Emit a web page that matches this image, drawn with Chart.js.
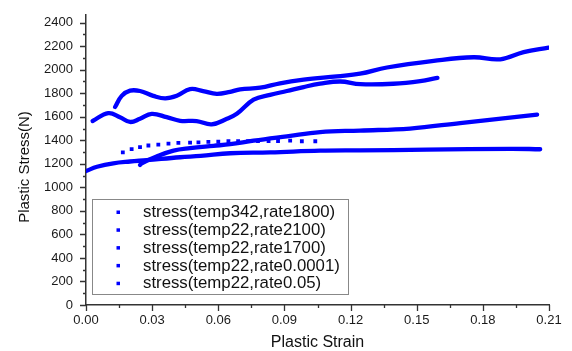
<!DOCTYPE html>
<html>
<head>
<meta charset="utf-8">
<script src="https://cdn.jsdelivr.net/npm/chart.js"></script>
<style>
  html, body { margin: 0; padding: 0; background: #fff; }
  #wrap { width: 572px; height: 351px; }
</style>
</head>
<body>
<div id="wrap"><canvas id="stressChart"></canvas></div>
<script>
// values
const strain342_1800 = [0, 0.005, 0.0124, 0.0200, 0.0275, 0.0427, 0.0520, 0.0654, 0.0835, 0.1062, 0.1243, 0.1546, 0.1924, 0.2060];
const stress342_1800 = [1139, 1175, 1205, 1220, 1231, 1256, 1267, 1290, 1297, 1312, 1315, 1320, 1328, 1324];

const strain22_2100 = [0.0132, 0.0162, 0.0200, 0.0245, 0.0305, 0.0359, 0.0412, 0.0472, 0.0531, 0.0593, 0.0654, 0.0699, 0.0790, 0.0880, 0.0987, 0.1138, 0.1243, 0.1365, 0.1577, 0.1758, 0.1879, 0.1985, 0.2098];
const stress22_2100 = [1683, 1778, 1822, 1819, 1778, 1756, 1778, 1835, 1819, 1795, 1812, 1833, 1847, 1885, 1915, 1944, 1966, 2019, 2075, 2106, 2089, 2150, 2188];

const strain22_1700 = [0.0030, 0.0101, 0.0154, 0.0200, 0.0245, 0.0298, 0.0366, 0.0427, 0.0502, 0.0570, 0.0639, 0.0684, 0.0760, 0.0835, 0.0911, 0.0987, 0.1062, 0.1153, 0.1244, 0.1394, 0.1516, 0.1594];
const stress22_1700 = [1564, 1631, 1597, 1556, 1583, 1625, 1597, 1566, 1564, 1536, 1583, 1625, 1745, 1786, 1819, 1853, 1881, 1900, 1878, 1881, 1903, 1931];

const strain22_00001 = [0.0245, 0.0253, 0.0320, 0.0397, 0.0472, 0.0578, 0.0654, 0.0760, 0.0911, 0.1062, 0.1243, 0.1470, 0.1697, 0.2046];
const stress22_00001 = [1190, 1205, 1262, 1312, 1333, 1353, 1367, 1397, 1434, 1470, 1483, 1500, 1547, 1619];

const strain22_005 = [0.0167, 0.0207, 0.0245, 0.0283, 0.0328, 0.0374, 0.0419, 0.0472, 0.0510, 0.0555, 0.0600, 0.0646, 0.0690, 0.0735, 0.0780, 0.0828, 0.0871, 0.0926, 0.0979, 0.1040];
const stress22_005 = [1297, 1325, 1342, 1356, 1364, 1372, 1378, 1381, 1383, 1386, 1389, 1392, 1392, 1393, 1394, 1393, 1394, 1398, 1392, 1392];

const seriesLabels = [
    'stress(temp342,rate1800)',
    'stress(temp22,rate2100)',
    'stress(temp22,rate1700)',
    'stress(temp22,rate0.0001)',
    'stress(temp22,rate0.05)'
];

const xTicks = [0, 0.03, 0.06, 0.09, 0.12, 0.15, 0.18, 0.21];
const yTicks = [0, 200, 400, 600, 800, 1000, 1200, 1400, 1600, 1800, 2000, 2200, 2400];

const BLUE = '#0000ff';
const FONT = "'Liberation Sans', Arial, sans-serif";

function toPoints(xs, ys) {
    return xs.map((x, i) => ({ x: x, y: ys[i] }));
}

function curve(label, xs, ys) {
    return {
        label: label,
        data: toPoints(xs, ys),
        showLine: true,
        borderColor: BLUE,
        backgroundColor: BLUE,
        borderWidth: 4.3,
        borderCapStyle: 'round',
        borderJoinStyle: 'round',
        tension: 0.4,
        pointRadius: 0
    };
}

const datasets = [
    curve(seriesLabels[0], strain342_1800, stress342_1800),
    curve(seriesLabels[1], strain22_2100, stress22_2100),
    curve(seriesLabels[2], strain22_1700, stress22_1700),
    curve(seriesLabels[3], strain22_00001, stress22_00001),
    {
        label: seriesLabels[4],
        data: toPoints(strain22_005, stress22_005),
        showLine: false,
        pointStyle: 'rect',
        pointRadius: 2.7,
        pointBorderWidth: 0,
        backgroundColor: BLUE,
        borderColor: BLUE
    }
];

// axis ticks (major + minor, outward), titles and the boxed legend
const decorPlugin = {
    id: 'decor',
    afterDraw(chart) {
        const ctx = chart.ctx;
        const x = chart.scales.x, y = chart.scales.y;
        const area = chart.chartArea;
        ctx.save();
        ctx.strokeStyle = '#333';
        ctx.lineWidth = 1.3;
        ctx.beginPath();
        for (let v = 0; v <= 2400; v += 100) {
            const py = Math.round(y.getPixelForValue(v)) + 0.5;
            const len = (v % 200 === 0) ? 6 : 3;
            ctx.moveTo(area.left, py);
            ctx.lineTo(area.left - len, py);
        }
        for (let i = 0; i <= 14; i++) {
            const px = Math.round(x.getPixelForValue(i * 0.015)) + 0.5;
            const len = (i % 2 === 0) ? 6 : 3;
            ctx.moveTo(px, area.bottom);
            ctx.lineTo(px, area.bottom + len);
        }
        ctx.stroke();

        // titles
        ctx.fillStyle = '#111';
        ctx.textAlign = 'center';
        ctx.textBaseline = 'middle';
        ctx.font = '16px ' + FONT;
        ctx.fillText('Plastic Strain', (area.left + area.right) / 2, 343);
        ctx.translate(25, 167);
        ctx.rotate(-Math.PI / 2);
        ctx.font = '15px ' + FONT;
        ctx.fillText('Plastic Stress(N)', 0, 0);
        ctx.restore();

        // legend
        ctx.save();
        ctx.fillStyle = '#fff';
        ctx.fillRect(92, 199, 256, 95);
        ctx.strokeStyle = '#888';
        ctx.lineWidth = 1;
        ctx.strokeRect(92.5, 199.5, 256, 95);
        ctx.font = '16.8px ' + FONT;
        ctx.textAlign = 'left';
        ctx.textBaseline = 'middle';
        chart.data.datasets.forEach((ds, i) => {
            const cy = 212 + i * 17.8;
            ctx.fillStyle = BLUE;
            ctx.fillRect(116.5, cy - 1.5, 3.5, 3.5);
            ctx.fillStyle = '#111';
            ctx.fillText(ds.label, 143, cy + 0.5);
        });
        ctx.restore();
    }
};

new Chart(document.getElementById('stressChart'), {
    type: 'scatter',
    data: { datasets: datasets },
    plugins: [decorPlugin],
    options: {
        responsive: true,
        maintainAspectRatio: false,
        animation: false,
        layout: { padding: { left: 0, right: 23, top: 9, bottom: 0 } },
        plugins: {
            legend: { display: false },
            tooltip: { enabled: false }
        },
        scales: {
            x: {
                type: 'linear',
                min: 0,
                max: 0.21,
                afterBuildTicks: s => { s.ticks = xTicks.map(v => ({ value: v })); },
                afterFit: s => { s.height = 46; },
                grid: { display: true, drawOnChartArea: false, color: 'rgba(0,0,0,0)', tickLength: 6 },
                border: { display: true, color: '#333', width: 1.5 },
                ticks: {
                    padding: 2,
                    color: '#1a1a1a',
                    font: { family: FONT, size: 13 },
                    maxRotation: 0,
                    callback: v => v.toFixed(2)
                }
            },
            y: {
                type: 'linear',
                min: 0,
                max: 2467,
                afterBuildTicks: s => { s.ticks = yTicks.map(v => ({ value: v })); },
                afterFit: s => { s.width = 86; },
                grid: { display: true, drawOnChartArea: false, color: 'rgba(0,0,0,0)', tickLength: 6 },
                border: { display: true, color: '#333', width: 1.5 },
                ticks: {
                    padding: 7,
                    color: '#1a1a1a',
                    font: { family: FONT, size: 13 },
                    callback: v => String(v)
                }
            }
        }
    }
});
</script>
</body>
</html>
